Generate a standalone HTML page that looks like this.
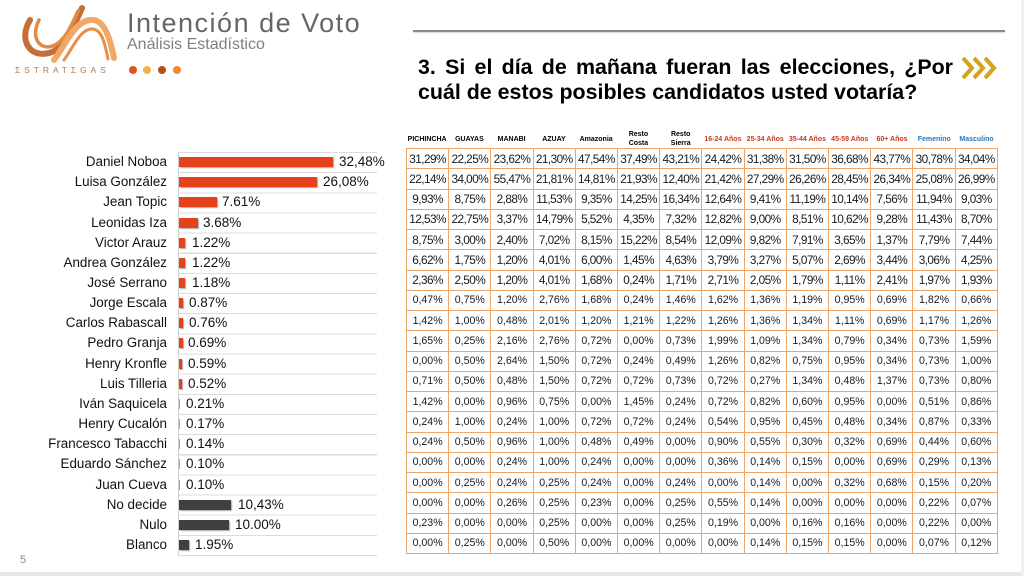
<!DOCTYPE html>
<html><head><meta charset="utf-8">
<style>
html,body{margin:0;padding:0;background:#fff;}
body{width:1024px;height:576px;position:relative;overflow:hidden;font-family:"Liberation Sans",Arial,sans-serif;}
.abs{position:absolute;}
.r{position:absolute;left:0;width:400px;height:20px;}
.n{position:absolute;right:233px;top:0;line-height:20px;font-size:13.4px;color:#111;white-space:nowrap;}
.b{position:absolute;left:179px;top:5px;height:10px;background:#e5421c;box-shadow:1px 1px 1px rgba(0,0,0,.35);}
.b.d{background:#404040;}
.b.t{width:1px;background:#e88a78;box-shadow:none;}
.v{position:absolute;top:0;line-height:20px;font-size:13.5px;color:#111;white-space:nowrap;}
table.t{position:absolute;left:406px;top:148px;width:592px;border-collapse:collapse;table-layout:fixed;}
table.t tr{height:20.25px;}
table.t td{border:1.5px solid #efa566;height:18.75px;padding:0;text-align:center;font-size:10.6px;color:#1a1a1a;white-space:nowrap;line-height:14px;overflow:hidden;}
table.t tr.g td{font-size:11.8px;letter-spacing:-0.55px;}
.h{position:absolute;top:128px;width:42.26px;height:22px;display:flex;align-items:center;justify-content:center;text-align:center;font-size:7px;font-weight:bold;line-height:9px;color:#000;white-space:nowrap;}
.h.a{color:#c23b22;}
.h.m{color:#2e75b6;}
</style></head>
<body>

<!-- Logo -->
<svg class="abs" style="left:10px;top:2px" width="110" height="64" viewBox="0 0 110 64">
  <path d="M20 18 C8 38, 20 58, 42 50 C56 44, 64 24, 72 6" fill="none" stroke="#c46f36" stroke-width="6" stroke-linecap="round"/>
  <path d="M29 18 C20 36, 30 50, 45 43 C56 37, 62 22, 68 9" fill="none" stroke="#e38a45" stroke-width="3.5" stroke-linecap="round"/>
  <path d="M44 58 C56 42, 64 20, 80 18 C94 16, 100 36, 104 56" fill="none" stroke="#f2a766" stroke-width="6" stroke-linecap="round"/>
  <path d="M54 58 C64 44, 70 28, 81 27 C92 26, 95 42, 98 57" fill="none" stroke="#e98d48" stroke-width="3" stroke-linecap="round"/>
</svg>
<div class="abs" style="left:15px;top:64px;font-size:8.5px;letter-spacing:3.9px;color:#a67c5b;line-height:12px;white-space:nowrap;">ΣSTRATΣGAS</div>

<div class="abs" style="left:127px;top:7px;font-size:27px;line-height:32px;letter-spacing:1.5px;color:#666;white-space:nowrap;">Intención de Voto</div>
<div class="abs" style="left:127px;top:36px;font-size:16px;line-height:18px;color:#808080;white-space:nowrap;">Análisis Estadístico</div>
<div class="abs" style="left:129px;top:66px;width:8px;height:8px;border-radius:50%;background:#e0531f;"></div>
<div class="abs" style="left:143px;top:66px;width:8px;height:8px;border-radius:50%;background:#f4b244;"></div>
<div class="abs" style="left:158px;top:66px;width:8px;height:8px;border-radius:50%;background:#b5501f;"></div>
<div class="abs" style="left:173px;top:66px;width:8px;height:8px;border-radius:50%;background:#f08a2e;"></div>

<div class="abs" style="left:413px;top:30px;width:592px;height:1.5px;background:#8a8a8a;box-shadow:0 1px 1px rgba(0,0,0,.15);"></div>

<!-- Title -->
<div class="abs" style="left:418px;top:55px;width:535px;font-size:21.4px;font-weight:bold;line-height:25px;color:#000;text-align:justify;text-align-last:justify;white-space:nowrap;">3. Si el día de mañana fueran las elecciones, ¿Por</div>
<div class="abs" style="left:418px;top:80px;font-size:21.4px;font-weight:bold;line-height:25px;color:#000;white-space:nowrap;">cuál de estos posibles candidatos usted votaría?</div>
<svg class="abs" style="left:960px;top:55px" width="44" height="26" viewBox="0 0 44 26">
  <polyline points="3,3 12,13 3,23" fill="none" stroke="#d6a21e" stroke-width="4"/>
  <polyline points="14,3 23,13 14,23" fill="none" stroke="#d6a21e" stroke-width="4"/>
  <polyline points="25,3 34,13 25,23" fill="none" stroke="#d6a21e" stroke-width="4"/>
</svg>

<!-- Bar chart grid -->
<div class="abs" style="left:178px;top:152px;width:199px;height:404px;background:repeating-linear-gradient(to bottom,#dcdcdc 0,#dcdcdc 1px,transparent 1px,transparent 20.15px);"></div>
<div class="abs" style="left:178px;top:152px;width:1px;height:403px;background:#d0d0d0;"></div>

<div class="r" style="top:152.1px"><span class="n">Daniel Noboa</span><i class="b" style="width:154px"></i><span class="v" style="left:339px">32,48%</span></div>
<div class="r" style="top:172.25px"><span class="n">Luisa González</span><i class="b" style="width:138px"></i><span class="v" style="left:323px">26,08%</span></div>
<div class="r" style="top:192.4px"><span class="n">Jean Topic</span><i class="b" style="width:38px"></i><span class="v" style="left:222px">7.61%</span></div>
<div class="r" style="top:212.55px"><span class="n">Leonidas Iza</span><i class="b" style="width:19px"></i><span class="v" style="left:203px">3.68%</span></div>
<div class="r" style="top:232.7px"><span class="n">Victor Arauz</span><i class="b" style="width:6px"></i><span class="v" style="left:192px">1.22%</span></div>
<div class="r" style="top:252.85px"><span class="n">Andrea González</span><i class="b" style="width:6px"></i><span class="v" style="left:192px">1.22%</span></div>
<div class="r" style="top:273px"><span class="n">José Serrano</span><i class="b" style="width:6px"></i><span class="v" style="left:192px">1.18%</span></div>
<div class="r" style="top:293.15px"><span class="n">Jorge Escala</span><i class="b" style="width:4px"></i><span class="v" style="left:189px">0.87%</span></div>
<div class="r" style="top:313.3px"><span class="n">Carlos Rabascall</span><i class="b" style="width:4px"></i><span class="v" style="left:189px">0.76%</span></div>
<div class="r" style="top:333.45px"><span class="n">Pedro Granja</span><i class="b" style="width:3.5px"></i><span class="v" style="left:188px">0.69%</span></div>
<div class="r" style="top:353.6px"><span class="n">Henry Kronfle</span><i class="b" style="width:3px"></i><span class="v" style="left:188px">0.59%</span></div>
<div class="r" style="top:373.75px"><span class="n">Luis Tilleria</span><i class="b" style="width:3px"></i><span class="v" style="left:188px">0.52%</span></div>
<div class="r" style="top:393.9px"><span class="n">Iván Saquicela</span><i class="b t"></i><span class="v" style="left:186px">0.21%</span></div>
<div class="r" style="top:414.05px"><span class="n">Henry Cucalón</span><i class="b t"></i><span class="v" style="left:186px">0.17%</span></div>
<div class="r" style="top:434.2px"><span class="n">Francesco Tabacchi</span><i class="b t"></i><span class="v" style="left:186px">0.14%</span></div>
<div class="r" style="top:454.35px"><span class="n">Eduardo Sánchez</span><i class="b t"></i><span class="v" style="left:186px">0.10%</span></div>
<div class="r" style="top:474.5px"><span class="n">Juan Cueva</span><i class="b t"></i><span class="v" style="left:186px">0.10%</span></div>
<div class="r" style="top:494.65px"><span class="n">No decide</span><i class="b d" style="width:52px"></i><span class="v" style="left:238px">10,43%</span></div>
<div class="r" style="top:514.8px"><span class="n">Nulo</span><i class="b d" style="width:50px"></i><span class="v" style="left:235px">10.00%</span></div>
<div class="r" style="top:534.95px"><span class="n">Blanco</span><i class="b d" style="width:10px"></i><span class="v" style="left:195px">1.95%</span></div>

<div class="abs" style="left:20px;top:553px;font-size:11px;color:#8a8a8a;line-height:14px;">5</div>

<!-- Table header -->
<div class="h" style="left:406px">PICHINCHA</div>
<div class="h" style="left:448.3px">GUAYAS</div>
<div class="h" style="left:490.5px">MANABI</div>
<div class="h" style="left:532.8px">AZUAY</div>
<div class="h" style="left:575px">Amazonia</div>
<div class="h" style="left:617.3px">Resto<br>Costa</div>
<div class="h" style="left:659.6px">Resto<br>Sierra</div>
<div class="h a" style="left:701.8px">16-24 Años</div>
<div class="h a" style="left:744.1px">25-34 Años</div>
<div class="h a" style="left:786.3px">35-44 Años</div>
<div class="h a" style="left:828.6px">45-59 Años</div>
<div class="h a" style="left:870.9px">60+ Años</div>
<div class="h m" style="left:913.1px">Femenino</div>
<div class="h m" style="left:955.4px">Masculino</div>

<table class="t">
<tr class="g"><td>31,29%</td><td>22,25%</td><td>23,62%</td><td>21,30%</td><td>47,54%</td><td>37,49%</td><td>43,21%</td><td>24,42%</td><td>31,38%</td><td>31,50%</td><td>36,68%</td><td>43,77%</td><td>30,78%</td><td>34,04%</td></tr>
<tr class="g"><td>22,14%</td><td>34,00%</td><td>55,47%</td><td>21,81%</td><td>14,81%</td><td>21,93%</td><td>12,40%</td><td>21,42%</td><td>27,29%</td><td>26,26%</td><td>28,45%</td><td>26,34%</td><td>25,08%</td><td>26,99%</td></tr>
<tr class="g"><td>9,93%</td><td>8,75%</td><td>2,88%</td><td>11,53%</td><td>9,35%</td><td>14,25%</td><td>16,34%</td><td>12,64%</td><td>9,41%</td><td>11,19%</td><td>10,14%</td><td>7,56%</td><td>11,94%</td><td>9,03%</td></tr>
<tr class="g"><td>12,53%</td><td>22,75%</td><td>3,37%</td><td>14,79%</td><td>5,52%</td><td>4,35%</td><td>7,32%</td><td>12,82%</td><td>9,00%</td><td>8,51%</td><td>10,62%</td><td>9,28%</td><td>11,43%</td><td>8,70%</td></tr>
<tr class="g"><td>8,75%</td><td>3,00%</td><td>2,40%</td><td>7,02%</td><td>8,15%</td><td>15,22%</td><td>8,54%</td><td>12,09%</td><td>9,82%</td><td>7,91%</td><td>3,65%</td><td>1,37%</td><td>7,79%</td><td>7,44%</td></tr>
<tr class="g"><td>6,62%</td><td>1,75%</td><td>1,20%</td><td>4,01%</td><td>6,00%</td><td>1,45%</td><td>4,63%</td><td>3,79%</td><td>3,27%</td><td>5,07%</td><td>2,69%</td><td>3,44%</td><td>3,06%</td><td>4,25%</td></tr>
<tr class="g"><td>2,36%</td><td>2,50%</td><td>1,20%</td><td>4,01%</td><td>1,68%</td><td>0,24%</td><td>1,71%</td><td>2,71%</td><td>2,05%</td><td>1,79%</td><td>1,11%</td><td>2,41%</td><td>1,97%</td><td>1,93%</td></tr>
<tr><td>0,47%</td><td>0,75%</td><td>1,20%</td><td>2,76%</td><td>1,68%</td><td>0,24%</td><td>1,46%</td><td>1,62%</td><td>1,36%</td><td>1,19%</td><td>0,95%</td><td>0,69%</td><td>1,82%</td><td>0,66%</td></tr>
<tr><td>1,42%</td><td>1,00%</td><td>0,48%</td><td>2,01%</td><td>1,20%</td><td>1,21%</td><td>1,22%</td><td>1,26%</td><td>1,36%</td><td>1,34%</td><td>1,11%</td><td>0,69%</td><td>1,17%</td><td>1,26%</td></tr>
<tr><td>1,65%</td><td>0,25%</td><td>2,16%</td><td>2,76%</td><td>0,72%</td><td>0,00%</td><td>0,73%</td><td>1,99%</td><td>1,09%</td><td>1,34%</td><td>0,79%</td><td>0,34%</td><td>0,73%</td><td>1,59%</td></tr>
<tr><td>0,00%</td><td>0,50%</td><td>2,64%</td><td>1,50%</td><td>0,72%</td><td>0,24%</td><td>0,49%</td><td>1,26%</td><td>0,82%</td><td>0,75%</td><td>0,95%</td><td>0,34%</td><td>0,73%</td><td>1,00%</td></tr>
<tr><td>0,71%</td><td>0,50%</td><td>0,48%</td><td>1,50%</td><td>0,72%</td><td>0,72%</td><td>0,73%</td><td>0,72%</td><td>0,27%</td><td>1,34%</td><td>0,48%</td><td>1,37%</td><td>0,73%</td><td>0,80%</td></tr>
<tr><td>1,42%</td><td>0,00%</td><td>0,96%</td><td>0,75%</td><td>0,00%</td><td>1,45%</td><td>0,24%</td><td>0,72%</td><td>0,82%</td><td>0,60%</td><td>0,95%</td><td>0,00%</td><td>0,51%</td><td>0,86%</td></tr>
<tr><td>0,24%</td><td>1,00%</td><td>0,24%</td><td>1,00%</td><td>0,72%</td><td>0,72%</td><td>0,24%</td><td>0,54%</td><td>0,95%</td><td>0,45%</td><td>0,48%</td><td>0,34%</td><td>0,87%</td><td>0,33%</td></tr>
<tr><td>0,24%</td><td>0,50%</td><td>0,96%</td><td>1,00%</td><td>0,48%</td><td>0,49%</td><td>0,00%</td><td>0,90%</td><td>0,55%</td><td>0,30%</td><td>0,32%</td><td>0,69%</td><td>0,44%</td><td>0,60%</td></tr>
<tr><td>0,00%</td><td>0,00%</td><td>0,24%</td><td>1,00%</td><td>0,24%</td><td>0,00%</td><td>0,00%</td><td>0,36%</td><td>0,14%</td><td>0,15%</td><td>0,00%</td><td>0,69%</td><td>0,29%</td><td>0,13%</td></tr>
<tr><td>0,00%</td><td>0,25%</td><td>0,24%</td><td>0,25%</td><td>0,24%</td><td>0,00%</td><td>0,24%</td><td>0,00%</td><td>0,14%</td><td>0,00%</td><td>0,32%</td><td>0,68%</td><td>0,15%</td><td>0,20%</td></tr>
<tr><td>0,00%</td><td>0,00%</td><td>0,26%</td><td>0,25%</td><td>0,23%</td><td>0,00%</td><td>0,25%</td><td>0,55%</td><td>0,14%</td><td>0,00%</td><td>0,00%</td><td>0,00%</td><td>0,22%</td><td>0,07%</td></tr>
<tr><td>0,23%</td><td>0,00%</td><td>0,00%</td><td>0,25%</td><td>0,00%</td><td>0,00%</td><td>0,25%</td><td>0,19%</td><td>0,00%</td><td>0,16%</td><td>0,16%</td><td>0,00%</td><td>0,22%</td><td>0,00%</td></tr>
<tr><td>0,00%</td><td>0,25%</td><td>0,00%</td><td>0,50%</td><td>0,00%</td><td>0,00%</td><td>0,00%</td><td>0,00%</td><td>0,14%</td><td>0,15%</td><td>0,15%</td><td>0,00%</td><td>0,07%</td><td>0,12%</td></tr>
</table>

<!-- slide edges -->
<div class="abs" style="left:0;top:572px;width:1024px;height:4px;background:#e8e8e8;"></div>
<div class="abs" style="left:1021px;top:0;width:3px;height:576px;background:#f1f1f1;"></div>
</body></html>
